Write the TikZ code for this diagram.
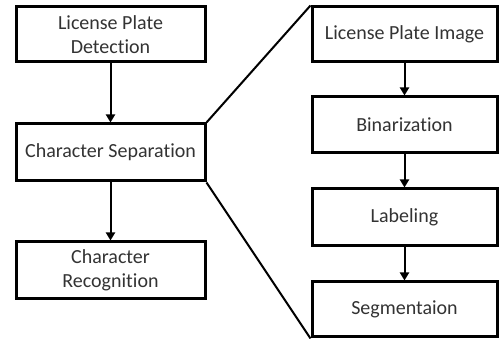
\documentclass[tikz,border=0pt]{standalone}
\usepackage{fontspec}
\setmainfont[Ligatures=NoCommon]{Carlito}
\usetikzlibrary{arrows.meta}
\begin{document}
\begin{tikzpicture}[x=1pt,y=-1pt,
  stage/.style={draw=black, line width=3pt, fill=white, inner sep=0pt,
    align=center, font=\fontsize{20}{24}\selectfont, text=black!80},
  flow/.style={line width=2pt, -{Triangle[length=8pt,width=9pt]}},
  zoomline/.style={line width=2pt}]
\useasboundingbox (0,0) rectangle (499,339);
% main pipeline
\node[stage, minimum width=189pt, minimum height=55pt] (det) at (110.5,34.5) {License Plate\\Detection};
\node[stage, minimum width=189pt, minimum height=57pt] (sep) at (110.5,152.5) {Character Separation};
\node[stage, minimum width=189pt, minimum height=57pt] (rec) at (110.5,270.5) {Character\\Recognition};
% expanded separation steps
\node[stage, minimum width=185pt, minimum height=55pt] (img) at (404.5,34.5) {License Plate Image};
\node[stage, minimum width=185pt, minimum height=56pt] (bin) at (404.5,125) {Binarization};
\node[stage, minimum width=185pt, minimum height=57pt] (lab) at (404.5,217.5) {Labeling};
\node[stage, minimum width=185pt, minimum height=55pt] (seg) at (404.5,309.5) {Segmentaion};
% arrows
\draw[flow] (det) -- (sep);
\draw[flow] (sep) -- (rec);
\draw[flow] (img) -- (bin);
\draw[flow] (bin) -- (lab);
\draw[flow] (lab) -- (seg);
% expansion lines
\draw[zoomline] (sep.north east) -- (img.north west);
\draw[zoomline] (sep.south east) -- (seg.south west);
\end{tikzpicture}
\end{document}
